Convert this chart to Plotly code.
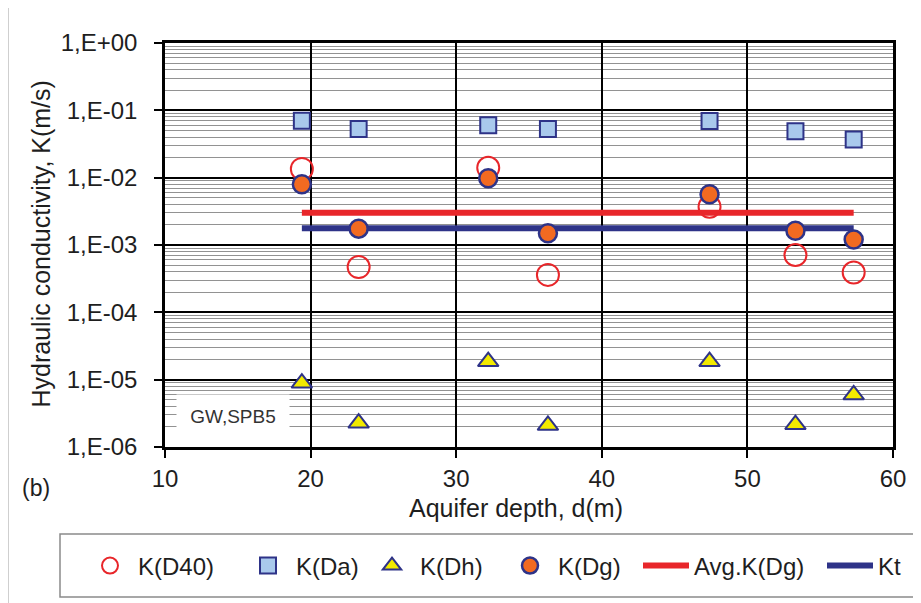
import plotly.graph_objects as go

# ---- data ----
depth = [19.4, 23.3, 32.2, 36.3, 47.4, 53.3, 57.3]
k_d40 = [1.35e-2, 4.7e-4, 1.4e-2, 3.6e-4, 3.7e-3, 7.1e-4, 3.9e-4]
k_da = [7.0e-2, 5.3e-2, 6.0e-2, 5.3e-2, 6.95e-2, 4.9e-2, 3.7e-2]
k_dh = [8.9e-6, 2.27e-6, 1.86e-5, 2.1e-6, 1.86e-5, 2.15e-6, 5.95e-6]
k_dg = [8.0e-3, 1.75e-3, 9.8e-3, 1.49e-3, 5.66e-3, 1.63e-3, 1.21e-3]
avg_kdg = 3.02e-3
kt = 1.77e-3
line_x = [depth[0], depth[-1]]

x_ticks = [10, 20, 30, 40, 50, 60]
y_tickvals = [1e-6, 1e-5, 1e-4, 1e-3, 1e-2, 1e-1, 1e0]
y_ticktext = ["1,E-06", "1,E-05", "1,E-04", "1,E-03", "1,E-02", "1,E-01", "1,E+00"]
minor_vals = [m * 10 ** e for e in range(-6, 0) for m in range(2, 10)]

FONT = "Liberation Sans, Arial, sans-serif"
NAVY = "#2e3388"
RED = "#e8262a"
TXT = "#1e1e1e"

fig = go.Figure()

fig.add_trace(go.Scatter(x=line_x, y=[avg_kdg, avg_kdg], mode="lines", name="Avg.K(Dg)",
                         line=dict(color=RED, width=6), legendrank=5, legendwidth=123))
fig.add_trace(go.Scatter(x=line_x, y=[kt, kt], mode="lines", name="Kt",
                         line=dict(color=NAVY, width=6), legendrank=6, legendwidth=30))
fig.add_trace(go.Scatter(x=depth, y=k_d40, mode="markers", name="K(D40)",
                         marker=dict(symbol="circle-open", size=22, color=RED,
                                     line=dict(width=2, color=RED)),
                         legendrank=1, legendwidth=97))
fig.add_trace(go.Scatter(x=depth, y=k_da, mode="markers", name="K(Da)",
                         marker=dict(symbol="square", size=16, color="#a9c9ec",
                                     line=dict(width=2, color=NAVY)),
                         legendrank=2, legendwidth=63))
fig.add_trace(go.Scatter(x=depth, y=k_dh, mode="markers", name="K(Dh)",
                         marker=dict(symbol="triangle-up", size=18, color="#f2ea00",
                                     line=dict(width=2, color=NAVY)),
                         legendrank=3, legendwidth=77))
fig.add_trace(go.Scatter(x=depth, y=k_dg, mode="markers", name="K(Dg)",
                         marker=dict(symbol="circle", size=18, color="#f26a21",
                                     line=dict(width=2.5, color=NAVY)),
                         legendrank=4, legendwidth=75))

# page body has an 8px margin: positions below are reference pixels minus this offset
OFF = 8
W, H = 913, 595
L, T = 165 - OFF, 43 - OFF
PW, PH = 728, 404
R, B = W - L - PW, H - T - PH


def px(x):
    return (x - OFF - L) / PW


def py(y):
    return (T + PH - (y - OFF)) / PH


fig.update_layout(
    width=W, height=H,
    margin=dict(l=L, r=R, t=T, b=B, autoexpand=False),
    paper_bgcolor="white", plot_bgcolor="white",
    font=dict(family=FONT, size=24, color=TXT),
    showlegend=True,
    legend=dict(orientation="h", x=px(82), xanchor="left", y=py(566), yanchor="middle",
                bgcolor="rgba(0,0,0,0)", borderwidth=0, itemwidth=46,
                font=dict(family=FONT, size=24, color=TXT)),
    xaxis=dict(range=[10, 60], tickvals=x_ticks, ticks="outside", ticklen=8, tickwidth=2,
               tickcolor="black", showgrid=True, gridcolor="black", gridwidth=2,
               showline=True, linecolor="black", linewidth=2.5, mirror=True,
               zeroline=False, ticklabelstandoff=0,
               tickfont=dict(family=FONT, size=24, color=TXT)),
    yaxis=dict(type="log", range=[-6, 0], tickvals=y_tickvals, ticktext=y_ticktext,
               ticks="outside", ticklen=8, tickwidth=2, tickcolor="black",
               showgrid=True, gridcolor="black", gridwidth=2,
               showline=True, linecolor="black", linewidth=2.5, mirror=True,
               zeroline=False, ticklabelstandoff=12,
               tickfont=dict(family=FONT, size=24, color=TXT),
               minor=dict(tickvals=minor_vals, showgrid=True, gridcolor="#929292",
                          gridwidth=1, ticks="")),
    annotations=[
        dict(text="Hydraulic conductivity, K(m/s)", textangle=-90, xref="paper", yref="paper",
             x=px(40.5), y=py(244), xanchor="center", yanchor="middle", showarrow=False,
             font=dict(family=FONT, size=25, color=TXT)),
        dict(text="Aquifer depth, d(m)", xref="paper", yref="paper",
             x=px(516), y=py(508), xanchor="center", yanchor="middle", showarrow=False,
             font=dict(family=FONT, size=25, color=TXT)),
        dict(text="(b)", xref="paper", yref="paper", x=px(36), y=py(488),
             xanchor="center", yanchor="middle", showarrow=False,
             font=dict(family=FONT, size=23, color=TXT)),
        dict(text="GW,SPB5", xref="paper", yref="paper", x=px(233), y=py(416),
             xanchor="center", yanchor="middle", showarrow=False, width=110, height=40,
             bgcolor="white", font=dict(family=FONT, size=19, color="#333333")),
    ],
    shapes=[
        dict(type="rect", xref="paper", yref="paper", x0=px(8), x1=px(940), y0=py(7), y1=py(640),
             line=dict(color="#c0c0c0", width=1.5), fillcolor="rgba(0,0,0,0)", layer="below"),
        dict(type="rect", xref="paper", yref="paper", x0=px(60), x1=px(918), y0=py(534), y1=py(597),
             line=dict(color="#8a8a8a", width=1.5), fillcolor="rgba(0,0,0,0)", layer="below"),
    ],
)

fig.write_html("out.html")
